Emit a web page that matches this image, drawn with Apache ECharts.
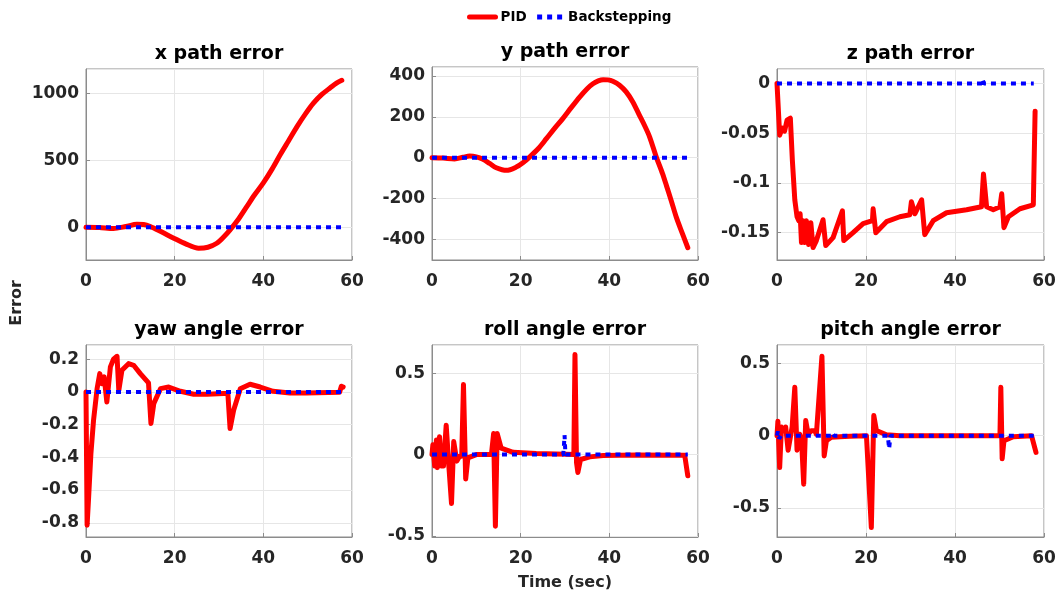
<!DOCTYPE html>
<html>
<head>
<meta charset="utf-8">
<title>Path and angle errors: PID vs Backstepping</title>
<script src="https://cdn.jsdelivr.net/npm/echarts@6/dist/echarts.min.js"></script>
<style>
  html, body { margin: 0; padding: 0; background: #ffffff; }
  #chart { width: 1059px; height: 597px; }
</style>
</head>
<body>
<div id="chart"></div>
<script>
// ---- data -------------------------------------------------------------
const seriesNames = ['PID', 'Backstepping'];
const panelTitles = ['x path error', 'y path error', 'z path error',
                     'yaw angle error', 'roll angle error', 'pitch angle error'];
const timeTicks = [0, 20, 40, 60];

// y tick values for each panel
const xPathTicks = [0, 500, 1000];
const yPathTicks = [-400, -200, 0, 200, 400];
const zPathTicks = [-0.15, -0.1, -0.05, 0];
const yawTicks = [-0.8, -0.6, -0.4, -0.2, 0, 0.2];
const rollTicks = [-0.5, 0, 0.5];
const pitchTicks = [-0.5, 0, 0.5];

// x path error
const xPathT   = [0, 3, 6.2, 9, 11.5, 13, 14.5, 17, 19.8, 22.5, 25.4, 27.5, 29.5, 31, 32.5, 34.5, 36.3, 38, 40, 42, 43.8, 45.7, 47.6, 49.5, 51.3, 53.2, 55.1, 56.5, 57.7];
const xPathPid = [0, -2, -10, 5, 22, 20, 5, -35, -82, -125, -157, -150, -120, -75, -20, 65, 155, 240, 330, 435, 540, 645, 750, 845, 925, 990, 1040, 1075, 1096];
const xPathBsT = [0, 57.7];
const xPathBs  = [0, 0];

// y path error
const yPathT   = [0, 2.5, 5.1, 7, 8.5, 10, 11.5, 13, 14.5, 16.8, 19, 20.5, 22, 24, 25.8, 27.6, 29.5, 31.4, 33.3, 35, 36.3, 37.5, 38.6, 39.7, 40.8, 42.3, 43.8, 45.3, 46.8, 48, 49.1, 50.6, 52, 52.9, 54, 55.1, 56.4, 57.7];
const yPathPid = [0, -2, -6, 2, 8, 4, -8, -28, -49, -62, -46, -25, 3, 45, 93, 142, 191, 245, 297, 338, 362, 376, 382, 381, 374, 355, 322, 273, 207, 155, 101, 3, -78, -138, -213, -291, -367, -441];
const yPathBsT = [0, 57.7];
const yPathBs  = [0, 0];

// z path error
const zPathT   = [0, 0.6, 1.2, 1.7, 2.25, 3, 3.45, 4, 4.5, 4.9, 5.2, 5.5, 5.85, 6.2, 6.6, 7.1, 7.6, 8.1, 8.85, 10.35, 10.95, 12.6, 14.7, 15, 17.1, 19.35, 21.45, 21.6, 22.2, 24.6, 27.6, 29.85, 30.2, 31, 32.5, 33.2, 35.1, 38.1, 42.6, 45.95, 46.4, 47.1, 48.6, 50.1, 50.5, 51, 52, 54.6, 57.6, 58];
const zPathPid = [0, -0.052, -0.045, -0.048, -0.037, -0.035, -0.077, -0.117, -0.134, -0.138, -0.131, -0.16, -0.138, -0.16, -0.138, -0.162, -0.14, -0.165, -0.158, -0.137, -0.163, -0.155, -0.128, -0.158, -0.15, -0.141, -0.138, -0.126, -0.15, -0.139, -0.134, -0.132, -0.119, -0.131, -0.117, -0.152, -0.138, -0.13, -0.127, -0.124, -0.091, -0.124, -0.127, -0.124, -0.111, -0.145, -0.134, -0.126, -0.122, -0.028];
const zPathBsT = [0, 29.9, 30.1, 30.3, 46, 46.2, 46.5, 57.7];
const zPathBs  = [0, 0, -0.002, 0, 0, 0.004, 0, 0];

// yaw angle error
const yawT   = [0, 0.25, 0.6, 1.1, 1.7, 2.5, 3.1, 3.6, 4.1, 4.7, 5.5, 6.2, 7, 7.4, 8.1, 9.6, 10.75, 12.25, 14.1, 14.65, 15.3, 16.8, 18.65, 21.3, 24.3, 27.3, 31, 32, 32.5, 33.3, 34.8, 37, 39.3, 42.2, 46, 49.7, 57.2, 57.6, 58];
const yawPid = [0, -0.815, -0.64, -0.38, -0.173, 0.02, 0.112, 0.05, 0.092, -0.061, 0.153, 0.2, 0.218, 0.01, 0.132, 0.173, 0.163, 0.112, 0.055, -0.193, -0.07, 0.02, 0.03, 0.004, -0.014, -0.014, -0.01, -0.01, -0.224, -0.112, 0.02, 0.047, 0.03, 0.004, -0.006, -0.006, -0.002, 0.035, 0.03];
const yawBsT = [0, 57.7];
const yawBs  = [0, 0];

// roll angle error
const rollT   = [0, 0.2, 0.6, 1, 1.2, 1.7, 2.1, 2.6, 3.2, 3.8, 4.4, 4.9, 5.6, 6.2, 6.7, 7.1, 7.6, 8.1, 10, 13.4, 13.9, 14.3, 14.7, 15.6, 18.3, 23.5, 30.3, 32, 32.25, 32.6, 32.9, 33.5, 35.6, 38.6, 46, 57, 57.7];
const rollPid = [0, 0.06, -0.07, 0.09, -0.08, 0.11, -0.07, -0.07, 0.18, -0.07, -0.3, 0.08, -0.04, -0.01, -0.01, 0.43, -0.15, -0.02, 0, 0, 0.13, -0.44, 0.13, 0.04, 0.014, 0.006, 0.002, 0, 0.615, -0.05, -0.11, -0.03, -0.014, -0.006, -0.002, -0.004, -0.13];
const rollBsT = [0, 29.6, 29.75, 29.9, 30.05, 30.2, 46, 46.2, 46.4, 57.7];
const rollBs  = [0, 0, 0.05, 0.12, 0.03, 0, 0, -0.012, 0, 0];

// pitch angle error
const pitchT   = [0, 0.2, 0.6, 1, 1.5, 1.95, 2.5, 2.85, 3.4, 4, 4.5, 5.1, 5.5, 6, 6.45, 7, 7.7, 8.5, 8.85, 10.1, 10.6, 11.1, 12.2, 14.1, 16.35, 20.1, 21.2, 21.75, 22.35, 24.6, 27.6, 32.8, 33.2, 33.6, 50.1, 50.3, 50.6, 51, 53.1, 57.2, 58.2];
const pitchPid = [0, 0.1, -0.22, 0.06, 0.035, 0.06, -0.1, -0.1, 0.06, 0.335, -0.1, 0.01, -0.02, -0.335, 0.105, 0.01, 0.035, 0.035, 0.01, 0.55, -0.14, -0.035, -0.01, -0.007, -0.003, 0, -0.635, 0.14, 0.035, 0.007, 0, 0, 0.008, 0, 0, 0.335, -0.16, -0.035, -0.007, 0, -0.115];
const pitchBsT = [0, 0.2, 0.5, 0.9, 12.1, 12.4, 12.8, 24.9, 25.2, 25.5, 57.7];
const pitchBs  = [0, 0.03, -0.02, 0, 0, 0.02, 0, 0, -0.09, 0, 0];

// ---- layout -----------------------------------------------------------
const FONT = 'DejaVu Sans';
const RED = '#ff0000';
const BLUE = '#0000ff';

const panels = [
  { grid: { left: 86,  top: 69,  width: 266, height: 191 }, yMin: -245,  yMax: 1180,  ticks: xPathTicks,
    pid: [xPathT, xPathPid], bs: [xPathBsT, xPathBs], smooth: 0.3 },
  { grid: { left: 432, top: 67,  width: 266, height: 193 }, yMin: -501,  yMax: 444,   ticks: yPathTicks,
    pid: [yPathT, yPathPid], bs: [yPathBsT, yPathBs], smooth: 0.3 },
  { grid: { left: 777, top: 69,  width: 267, height: 191 }, yMin: -0.1775, yMax: 0.0145, ticks: zPathTicks,
    pid: [zPathT, zPathPid], bs: [zPathBsT, zPathBs], smooth: false },
  { grid: { left: 86,  top: 345, width: 266, height: 192 }, yMin: -0.887, yMax: 0.287, ticks: yawTicks,
    pid: [yawT, yawPid], bs: [yawBsT, yawBs], smooth: false },
  { grid: { left: 432, top: 345, width: 266, height: 192 }, yMin: -0.506, yMax: 0.673, ticks: rollTicks,
    pid: [rollT, rollPid], bs: [rollBsT, rollBs], smooth: false },
  { grid: { left: 777, top: 345, width: 267, height: 192 }, yMin: -0.70,  yMax: 0.627, ticks: pitchTicks,
    pid: [pitchT, pitchPid], bs: [pitchBsT, pitchBs], smooth: false }
];

const zip = (t, v) => t.map((x, i) => [x, v[i]]);
const labelStyle = { fontFamily: FONT, fontWeight: 'bold', fontSize: 17, color: '#262626' };

const grids = [], xAxes = [], yAxes = [], series = [], graphics = [];

panels.forEach((p, i) => {
  grids.push(Object.assign({ show: true, borderColor: '#8c8c8c', borderWidth: 1, containLabel: false }, p.grid));

  xAxes.push({
    type: 'value', gridIndex: i,
    min: timeTicks[0], max: timeTicks[timeTicks.length - 1],
    interval: timeTicks[1] - timeTicks[0],
    axisLine: { show: true, onZero: false, lineStyle: { color: '#8c8c8c', width: 1 } },
    axisTick: { show: true, inside: true, length: 4, lineStyle: { color: '#8c8c8c' } },
    splitLine: { show: true, lineStyle: { color: '#e6e6e6', width: 1 } },
    axisLabel: Object.assign({ margin: 13 }, labelStyle)
  });

  const step = p.ticks[1] - p.ticks[0];
  yAxes.push({
    type: 'value', gridIndex: i,
    min: p.yMin, max: p.yMax,
    minInterval: step, maxInterval: step,
    axisLine: { show: true, onZero: false, lineStyle: { color: '#8c8c8c', width: 1 } },
    axisTick: { show: true, inside: true, length: 4, lineStyle: { color: '#8c8c8c' } },
    splitLine: { show: true, lineStyle: { color: '#e6e6e6', width: 1 } },
    axisLabel: Object.assign({ margin: 7, showMinLabel: false, showMaxLabel: false,
      formatter: v => String(Math.round(v * 1000) / 1000) }, labelStyle)
  });

  series.push({
    name: seriesNames[0], type: 'line', xAxisIndex: i, yAxisIndex: i,
    data: zip(p.pid[0], p.pid[1]), symbol: 'none', smooth: p.smooth,
    lineStyle: { color: RED, width: 5, join: 'round', cap: 'round' },
    itemStyle: { color: RED }, z: 2, animation: false
  });
  series.push({
    name: seriesNames[1], type: 'line', xAxisIndex: i, yAxisIndex: i,
    data: zip(p.bs[0], p.bs[1]), symbol: 'none',
    lineStyle: { color: BLUE, width: 4, type: [5, 5], cap: 'butt' },
    itemStyle: { color: BLUE }, z: 3, animation: false
  });

  const g = p.grid;
  graphics.push({
    type: 'text', x: g.left + g.width / 2, y: g.top - 15,
    style: { text: panelTitles[i], fill: '#000000', font: 'bold 19px "' + FONT + '"',
             textAlign: 'center', textVerticalAlign: 'middle' }
  });
});

graphics.push({
  type: 'text', x: 565, y: 583,
  style: { text: 'Time (sec)', fill: '#262626', font: 'bold 16px "' + FONT + '"',
           textAlign: 'center', textVerticalAlign: 'middle' }
});
graphics.push({
  type: 'text', x: 17, y: 303, rotation: Math.PI / 2,
  style: { text: 'Error', fill: '#262626', font: 'bold 16px "' + FONT + '"',
           textAlign: 'center', textVerticalAlign: 'middle' }
});

const chart = echarts.init(document.getElementById('chart'), null, { renderer: 'canvas' });
chart.setOption({
  backgroundColor: '#ffffff',
  animation: false,
  legend: {
    data: [
      { name: seriesNames[0], lineStyle: { width: 5 } },
      { name: seriesNames[1], lineStyle: { width: 5 } }
    ],
    left: 467, top: 10, padding: 0,
    itemWidth: 26, itemHeight: 12, itemGap: 8,
    itemStyle: { opacity: 0 },
    textStyle: { fontFamily: FONT, fontWeight: 'bold', fontSize: 13.5, color: '#000000' }
  },
  grid: grids, xAxis: xAxes, yAxis: yAxes, series: series,
  graphic: graphics
});
</script>
</body>
</html>
